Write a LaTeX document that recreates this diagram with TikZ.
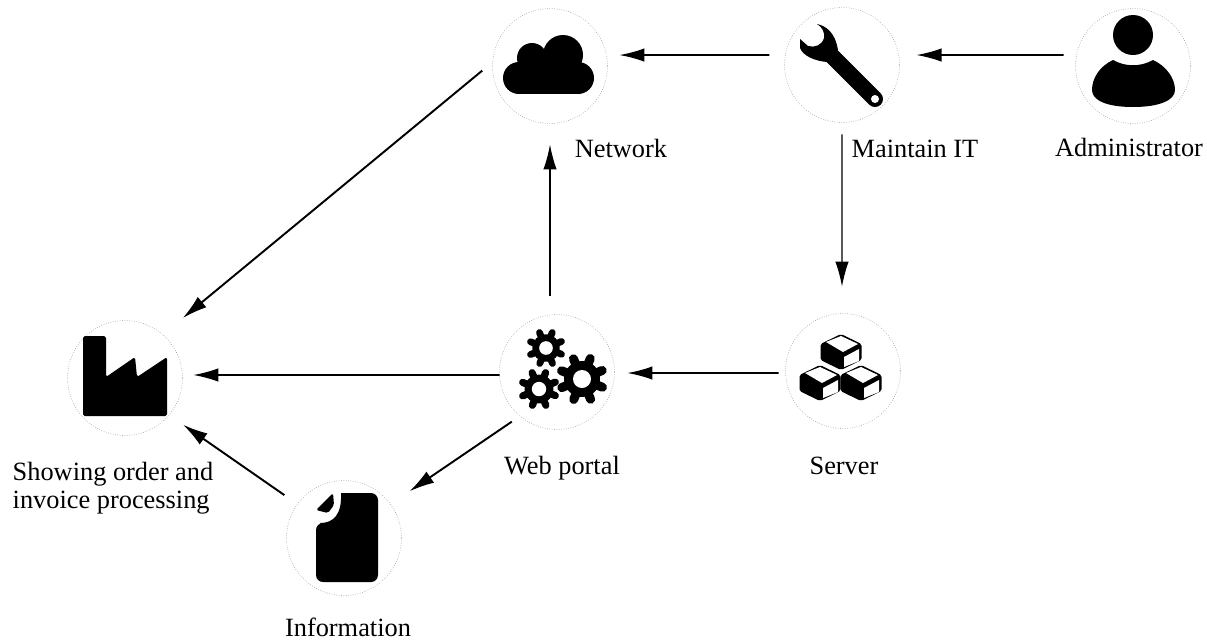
\documentclass[tikz,border=0pt]{standalone}
\usepackage{fontspec}
\setmainfont{Liberation Serif}
\usetikzlibrary{arrows.meta}

\newcommand{\gearicon}[3]{
	\foreach \ang in {0,45,...,315} {
		\draw[black, line width=#3*0.0072cm, line cap=round] (#1,#2) -- ++(\ang+22:#3*0.88);
	}
	\fill[black] (#1,#2) circle [radius=#3*0.72];
	\fill[white] (#1,#2) circle [radius=#3*0.36];
}
\newcommand{\cubeicon}[2]{
	\fill[black, rounded corners=1pt] (#1,#2-18) -- (#1+20.5,#2-8) -- (#1+20.5,#2+8) -- (#1,#2+18) -- (#1-20.5,#2+8) -- (#1-20.5,#2-8) -- cycle;
	\fill[white] (#1-15,#2-10) -- (#1,#2-16) -- (#1+17,#2-8) -- (#1+2,#2) -- cycle;
	\fill[white] (#1+3,#2+5) -- (#1+18,#2-3) -- (#1+18,#2+9) -- (#1+3,#2+15) -- cycle;
}

\begin{document}
\begin{tikzpicture}[
		x=0.02cm, y=-0.02cm,
		item/.style={circle, draw=black!40, densely dotted, line width=0.35pt, inner sep=0pt, outer sep=0pt, minimum size=2.3cm},
		caption/.style={font=\fontsize{15}{15.5}\selectfont, text=black, inner sep=0pt, align=left, anchor=base},
		flow/.style={-{Latex[length=0.5cm, width=0.27cm]}, black, line width=0.9pt}
	]
	\useasboundingbox (0,0) rectangle (1207,640);

	\node[item] (nodeAdmin) at (1133,66) {};
	\node[item] (nodeMaintain) at (842,65) {};
	\node[item] (nodeNetwork) at (550,66) {};
	\node[item] (nodeServer) at (843,371) {};
	\node[item] (nodeWeb) at (557,372) {};
	\node[item] (nodeFactory) at (125,378) {};
	\node[item] (nodeInfo) at (344,538) {};

	\node[caption] (nodAdmin) at (1129,156) {Administrator};
	\node[caption] (nodMaintain) at (915,157) {Maintain IT};
	\node[caption] (nodNetwork) at (621,157) {Network};
	\node[caption] (nodServer) at (844,474) {Server};
	\node[caption] (nodWeb) at (562,474) {Web portal};
	\node[caption] (nodFactory) at (113,508) {Showing order and\\invoice processing};
	\node[caption] (nodInfo) at (348,636) {Information};

	\draw[flow, shorten <=0.26cm, shorten >=0.36cm] (nodeAdmin.169) -- (nodeMaintain.10);
	\draw[flow, shorten <=0.32cm, shorten >=0.26cm] (nodeMaintain.170) -- (nodeNetwork.11);
	\draw[flow, line width=1.1pt, shorten <=0.27cm, shorten >=0.52cm] (nodeNetwork.176) -- (nodeFactory.49);
	\draw[flow, line width=0.7pt, shorten <=0.24cm, shorten >=0.54cm] (nodeMaintain.270) -- (nodeServer.91);
	\draw[flow, shorten <=0.14cm, shorten >=0.26cm] (nodeServer.182) -- (nodeWeb.359);
	\draw[flow, shorten <=0.38cm, shorten >=0.42cm] (nodeWeb.97) -- (nodeNetwork.270);
	\draw[flow, shorten >=0.22cm] (nodeWeb.183) -- (nodeFactory.3);
	\draw[flow, line width=1.1pt, shorten <=0.2cm, shorten >=0.46cm] (nodeWeb.230) -- (nodeInfo.36);
	\draw[flow, line width=1.1pt, shorten <=0.32cm, shorten >=0.34cm] (nodeInfo.144) -- (nodeFactory.320);

	% administrator
	\fill[black] (1133,35) circle [radius=20];
	\fill[black] (1113,60) .. controls (1125,67) and (1141,67) .. (1153,60) .. controls (1166,66) and (1175,78) .. (1175,90) .. controls (1175,100) and (1160,107) .. (1133,107) .. controls (1106,107) and (1092,100) .. (1092,90) .. controls (1092,78) and (1100,66) .. (1113,60) -- cycle;

	% wrench
	\draw[black, line width=0.32cm, line cap=round] (832,56) -- (875,99);
	\fill[black] (817,24) .. controls (826,26) and (835,32) .. (838,50) -- (827,62) .. controls (815,61) and (803,56) .. (800,48) -- (800,39) -- (808,46) .. controls (815,48) and (822,45) .. (824,38) .. controls (825,32) and (822,27) .. (817,24) -- cycle;
	\fill[white] (875,99) circle [radius=4];

	% cloud
	\fill[black] (563,55) circle [radius=20];
	\fill[black] (532,58) circle [radius=15];
	\fill[black] (519,78) circle [radius=16];
	\fill[black] (578,78) circle [radius=16];
	\fill[black] (519,60) rectangle (578,94);

	% factory
	\fill[black, rounded corners=1pt] (83,336) -- (106,336) -- (106,377) -- (135,357) -- (137,377) -- (167,357) -- (167,416) -- (83,416) -- cycle;

	% document
	\fill[black, rounded corners=4pt] (360,493) -- (378,493) -- (378,582) -- (316,582) -- (316,523) [sharp corners] -- (320,523) .. controls (334,523) and (342,514) .. (341,493) -- cycle;
	\fill[black, rounded corners=1pt] (333,493) -- (316,510) -- (328,513) -- (334,505) -- cycle;

	% web portal
	\gearicon{582}{379}{25}
	\gearicon{546}{348}{19}
	\gearicon{539}{389}{20}

	% server
	\cubeicon{841}{352}
	\cubeicon{820}{383}
	\cubeicon{861}{383}
\end{tikzpicture}
\end{document}
